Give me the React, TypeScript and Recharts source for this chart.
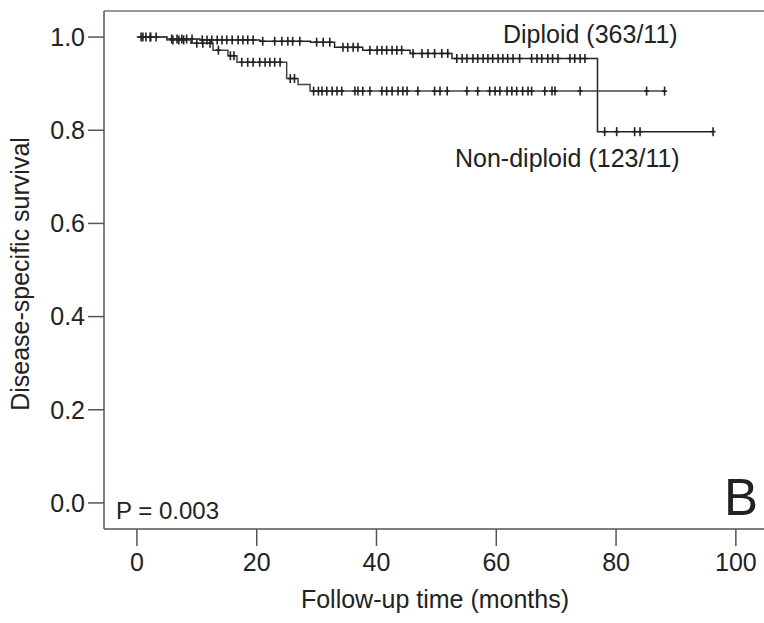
import { ComposedChart, Line, ReferenceLine, Scatter, XAxis, YAxis } from "recharts";

// Kaplan-Meier step points (month, survival); last point = end of follow-up
const diploidStepMonths = [0, 5.0, 10.5, 20.5, 29.0, 33.0, 37.7, 45.6, 52.6, 76.9, 96.2];
const diploidStepSurv = [1.0, 0.996, 0.994, 0.991, 0.989, 0.978, 0.972, 0.965, 0.954, 0.797, 0.797];

const nonDiploidStepMonths = [0, 5.0, 9.0, 12.7, 15.2, 16.7, 25.0, 26.9, 28.9, 88.1];
const nonDiploidStepSurv = [1.0, 0.994, 0.987, 0.972, 0.96, 0.946, 0.911, 0.898, 0.884, 0.884];

// censored observations (months)
const diploidCensored = [
  0.7, 1.5, 2.3, 3.2, 5.8, 6.7, 7.5, 8.3, 9.2, 10.9, 11.7, 12.5, 13.4, 14.2, 15.0, 15.9,
  16.9, 17.7, 18.5, 19.4, 21.0, 23.0, 24.2, 25.2, 26.0, 27.2, 30.0, 31.1, 32.2, 34.4,
  35.2, 36.1, 36.9, 38.9, 40.1, 40.9, 41.7, 42.6, 43.4, 44.2, 46.1, 47.6, 48.6, 49.7,
  50.9, 51.9, 53.4, 54.3, 55.1, 56.1, 56.9, 57.8, 58.6, 59.4, 60.3, 61.1, 61.9, 62.8,
  63.9, 65.9, 66.8, 67.6, 68.6, 69.4, 70.3, 72.3, 73.1, 74.0, 74.8, 78.1, 80.1, 83.1,
  84.0, 96.2
];
const nonDiploidCensored = [
  1.0, 2.2, 6.0, 7.0, 7.8, 10.0, 11.0, 12.2, 13.6, 15.6, 16.2, 17.5, 18.5, 19.4, 20.5,
  21.4, 22.2, 23.0, 23.9, 25.6, 26.3, 29.5, 30.3, 30.9, 31.7, 32.6, 33.4, 34.2, 36.4,
  36.9, 37.7, 38.9, 40.9, 41.7, 42.6, 43.6, 44.4, 45.1, 46.9, 49.7, 50.6, 51.8, 55.1,
  56.9, 58.9, 59.8, 60.6, 61.8, 62.6, 63.4, 64.4, 65.3, 65.9, 68.1, 69.3, 69.8, 74.0,
  85.1, 88.1
];

const xTicks = [0, 20, 40, 60, 80, 100];
const yTicks = [0, 0.2, 0.4, 0.6, 0.8, 1.0];

const FONT = '"Liberation Sans", Arial, Helvetica, sans-serif';
const INK = "#222";

function survAt(months: number[], surv: number[], t: number) {
  let s = surv[0];
  for (let i = 0; i < months.length; i++) {
    if (months[i] <= t) s = surv[i];
  }
  return s;
}

const diploidSteps = diploidStepMonths.map((m, i) => ({ m, s: diploidStepSurv[i] }));
const nonDiploidSteps = nonDiploidStepMonths.map((m, i) => ({ m, s: nonDiploidStepSurv[i] }));
const diploidMarks = diploidCensored.map((m) => ({ m, s: survAt(diploidStepMonths, diploidStepSurv, m) }));
const nonDiploidMarks = nonDiploidCensored.map((m) => ({
  m,
  s: survAt(nonDiploidStepMonths, nonDiploidStepSurv, m)
}));

function CensorMark(props: any) {
  const { cx, cy } = props;
  if (cx == null || cy == null) return null;
  return (
    <g>
      <line x1={cx} y1={cy - 4.5} x2={cx} y2={cy + 4.5} stroke={INK} strokeWidth={1.6} />
      <line x1={cx - 2.5} y1={cy} x2={cx + 2.5} y2={cy} stroke={INK} strokeWidth={1.6} />
    </g>
  );
}

export default function App() {
  return (
    <div style={{ position: "absolute", left: 0, top: 0, width: 764, height: 623, background: "#fff" }}>
      <ComposedChart width={764} height={623} margin={{ top: 11, right: 0, bottom: 0, left: 0 }}>
        <XAxis
          type="number"
          dataKey="m"
          domain={[-5.5, 104.7]}
          ticks={xTicks}
          allowDataOverflow
          height={94}
          tickSize={17}
          tickMargin={7}
          stroke="#555"
          strokeWidth={1.5}
          tick={{ fill: INK, fontSize: 25, fontFamily: FONT }}
        />
        <YAxis
          type="number"
          dataKey="s"
          domain={[-0.056, 1.056]}
          ticks={yTicks}
          allowDataOverflow
          width={104}
          tickSize={16}
          tickMargin={3}
          stroke="#555"
          strokeWidth={1.5}
          tickFormatter={(v: number) => v.toFixed(1)}
          tick={{ fill: INK, fontSize: 25, fontFamily: FONT }}
        />
        <ReferenceLine y={1.056} stroke="#999" strokeWidth={2} />

        <Line
          data={diploidSteps}
          dataKey="s"
          type="stepAfter"
          stroke={INK}
          strokeWidth={1.5}
          dot={false}
          isAnimationActive={false}
        />
        <Line
          data={nonDiploidSteps}
          dataKey="s"
          type="stepAfter"
          stroke="#444"
          strokeWidth={1.5}
          dot={false}
          isAnimationActive={false}
        />
        <Scatter data={diploidMarks} dataKey="s" shape={CensorMark} isAnimationActive={false} />
        <Scatter data={nonDiploidMarks} dataKey="s" shape={CensorMark} isAnimationActive={false} />

        <text x={503} y={43} fontSize={25} fontFamily={FONT} fill={INK}>
          Diploid (363/11)
        </text>
        <text x={455} y={167} fontSize={25} fontFamily={FONT} fill={INK}>
          Non-diploid (123/11)
        </text>
        <text x={116} y={519} fontSize={24} fontFamily={FONT} fill={INK}>
          P = 0.003
        </text>
        <text x={724} y={515} fontSize={51} fontFamily={FONT} fill={INK}>
          B
        </text>
        <text x={435} y={608} fontSize={25} fontFamily={FONT} fill={INK} textAnchor="middle">
          Follow-up time (months)
        </text>
        <text
          x={29}
          y={274}
          fontSize={25}
          fontFamily={FONT}
          fill={INK}
          textAnchor="middle"
          transform="rotate(-90 29 274)"
        >
          Disease-specific survival
        </text>
      </ComposedChart>
    </div>
  );
}
